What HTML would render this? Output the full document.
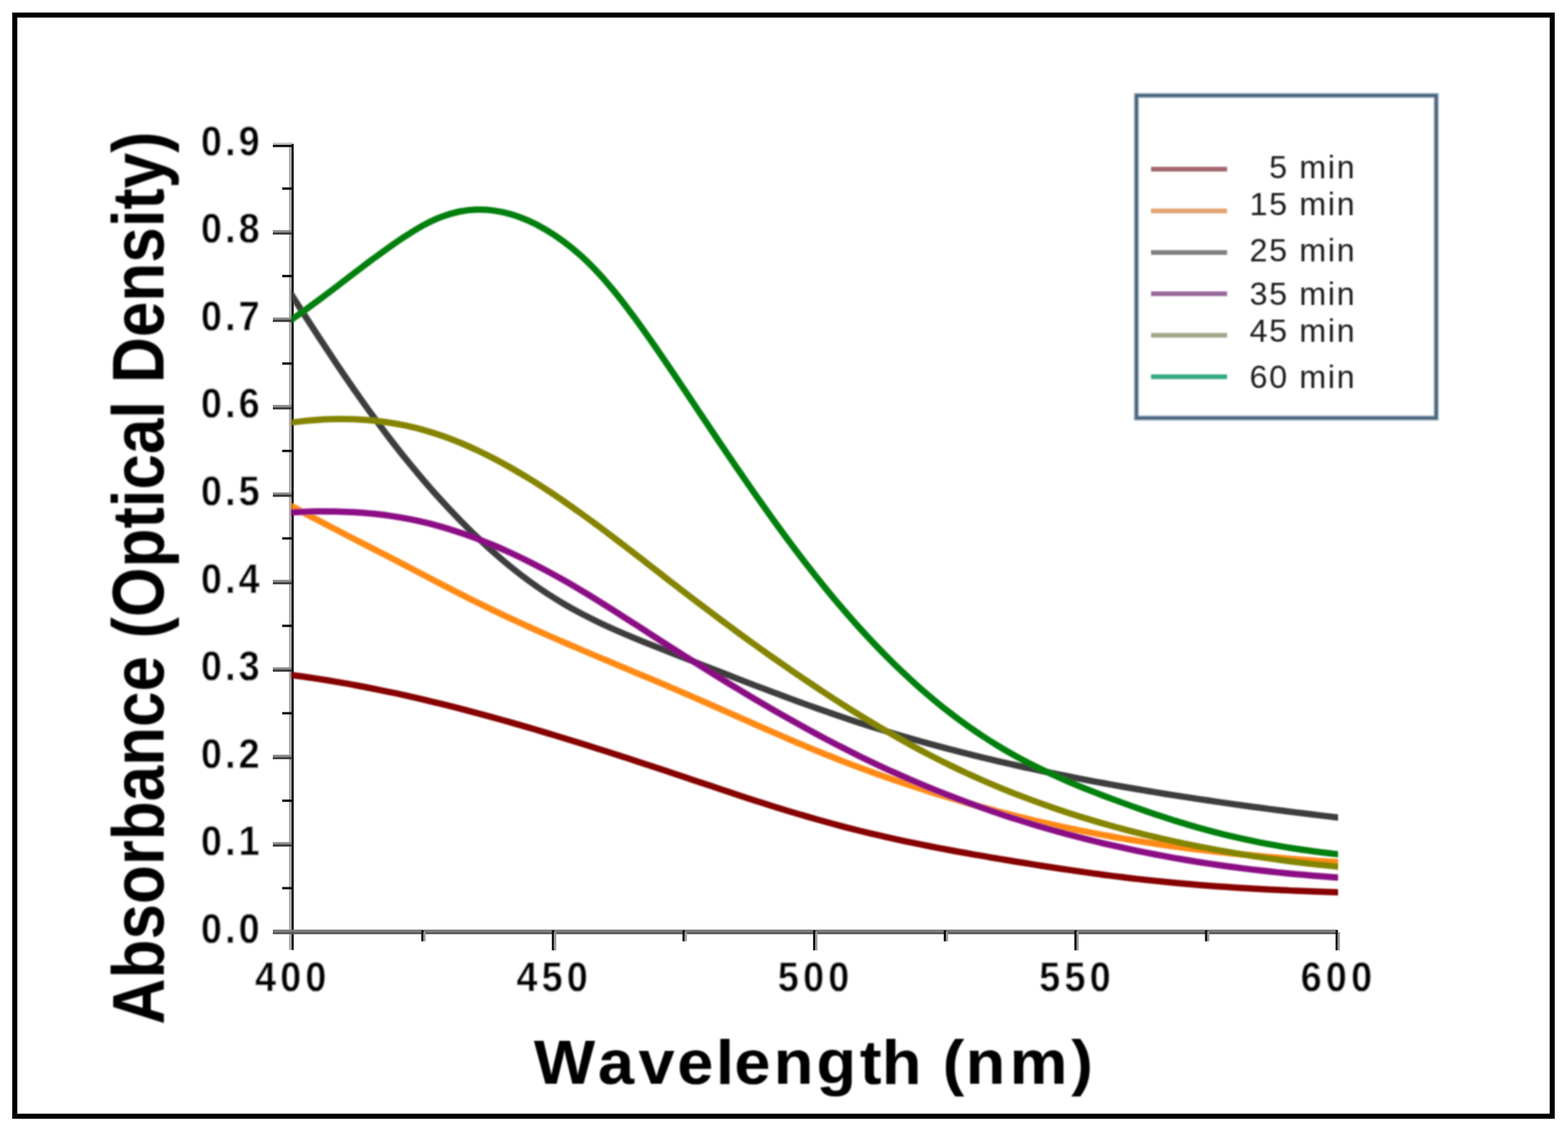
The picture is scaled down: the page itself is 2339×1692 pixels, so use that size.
<!DOCTYPE html>
<html lang="en">
<head>
<meta charset="utf-8">
<title>Absorbance spectra</title>
<style>
html,body{margin:0;padding:0;background:#fff;}
body{width:2339px;height:1692px;overflow:hidden;}
svg{display:block;}
text{font-family:"Liberation Sans",sans-serif;font-kerning:none;}
.tick{font-weight:bold;font-size:62.5px;fill:#060606;letter-spacing:5.2px;stroke:#fff;stroke-width:0.3px;}
.xtick{letter-spacing:7.0px;}
.xlab{font-weight:bold;font-size:92px;fill:#040404;letter-spacing:3.75px;stroke:#040404;stroke-width:0.2px;}
.ylab{font-weight:bold;font-size:109px;fill:#040404;letter-spacing:0px;stroke:#040404;stroke-width:0.0px;}
.leg{font-size:48px;fill:#1c1c1c;letter-spacing:2.5px;}
.curve{fill:none;stroke-width:9.5;stroke-linecap:butt;stroke-linejoin:round;}
</style>
</head>
<body>
<svg width="2339" height="1692" viewBox="0 0 2339 1692" role="img" aria-label="Absorbance spectra, 400 to 600 nm, for reaction times from 5 to 60 min">
<defs>
<filter id="soft" x="-5%" y="-5%" width="110%" height="110%"><feGaussianBlur stdDeviation="1.0"/></filter>
<filter id="soft2" x="-5%" y="-5%" width="110%" height="110%"><feGaussianBlur stdDeviation="0.55"/></filter>
</defs>
<rect x="0" y="0" width="2339" height="1692" fill="#ffffff"/>
<rect x="22" y="22.5" width="2293.5" height="1643" fill="none" stroke="#000" stroke-width="7.6"/>
<g id="axes" filter="url(#soft2)">
<rect x="431.0" y="212.6" width="4.2" height="1204.9" fill="#b0b0b0"/>
<rect x="435.0" y="214.6" width="3.1" height="1202.9" fill="#060606"/>
<rect x="407" y="1387" width="1588.8" height="3.5" fill="#7c7c7c"/>
<rect x="407" y="1390.4" width="1588.8" height="3.5" fill="#585858"/>
<rect x="421" y="1323.4" width="14.5" height="3.6" fill="#101010"/>
<rect x="407" y="1256.5" width="28" height="3.4" fill="#8c8c8c"/>
<rect x="407" y="1259.8" width="28.5" height="3.4" fill="#3c3c3c"/>
<rect x="421" y="1192.9" width="14.5" height="3.6" fill="#101010"/>
<rect x="407" y="1126.1" width="28" height="3.4" fill="#8c8c8c"/>
<rect x="407" y="1129.4" width="28.5" height="3.4" fill="#3c3c3c"/>
<rect x="421" y="1062.4" width="14.5" height="3.6" fill="#101010"/>
<rect x="407" y="995.6" width="28" height="3.4" fill="#8c8c8c"/>
<rect x="407" y="998.9" width="28.5" height="3.4" fill="#3c3c3c"/>
<rect x="421" y="932.0" width="14.5" height="3.6" fill="#101010"/>
<rect x="407" y="865.1" width="28" height="3.4" fill="#8c8c8c"/>
<rect x="407" y="868.4" width="28.5" height="3.4" fill="#3c3c3c"/>
<rect x="421" y="801.5" width="14.5" height="3.6" fill="#101010"/>
<rect x="407" y="734.7" width="28" height="3.4" fill="#8c8c8c"/>
<rect x="407" y="738.0" width="28.5" height="3.4" fill="#3c3c3c"/>
<rect x="421" y="671.0" width="14.5" height="3.6" fill="#101010"/>
<rect x="407" y="604.2" width="28" height="3.4" fill="#8c8c8c"/>
<rect x="407" y="607.5" width="28.5" height="3.4" fill="#3c3c3c"/>
<rect x="421" y="540.6" width="14.5" height="3.6" fill="#101010"/>
<rect x="407" y="473.7" width="28" height="3.4" fill="#8c8c8c"/>
<rect x="407" y="477.0" width="28.5" height="3.4" fill="#3c3c3c"/>
<rect x="421" y="410.1" width="14.5" height="3.6" fill="#101010"/>
<rect x="407" y="343.3" width="28" height="3.4" fill="#8c8c8c"/>
<rect x="407" y="346.6" width="28.5" height="3.4" fill="#3c3c3c"/>
<rect x="421" y="279.6" width="14.5" height="3.6" fill="#101010"/>
<rect x="407" y="212.8" width="28" height="3.4" fill="#c2c2c2"/>
<rect x="407" y="216.1" width="28.5" height="3.4" fill="#080808"/>
<rect x="628.4" y="1388" width="3.4" height="16.5" fill="#0c0c0c"/>
<rect x="631.6" y="1391" width="3.2" height="13.5" fill="#9a9a9a"/>
<rect x="823.2" y="1388" width="3.4" height="30.0" fill="#0c0c0c"/>
<rect x="826.5" y="1391" width="3.2" height="27.0" fill="#9a9a9a"/>
<rect x="1018.1" y="1388" width="3.4" height="16.5" fill="#0c0c0c"/>
<rect x="1021.4" y="1391" width="3.2" height="13.5" fill="#9a9a9a"/>
<rect x="1212.9" y="1388" width="3.4" height="30.0" fill="#0c0c0c"/>
<rect x="1216.2" y="1391" width="3.2" height="27.0" fill="#9a9a9a"/>
<rect x="1407.8" y="1388" width="3.4" height="16.5" fill="#0c0c0c"/>
<rect x="1411.1" y="1391" width="3.2" height="13.5" fill="#9a9a9a"/>
<rect x="1602.6" y="1388" width="3.4" height="30.0" fill="#0c0c0c"/>
<rect x="1605.9" y="1391" width="3.2" height="27.0" fill="#9a9a9a"/>
<rect x="1797.5" y="1388" width="3.4" height="16.5" fill="#0c0c0c"/>
<rect x="1800.8" y="1391" width="3.2" height="13.5" fill="#9a9a9a"/>
<rect x="1992.3" y="1388" width="3.4" height="30.0" fill="#0c0c0c"/>
<rect x="1995.6" y="1391" width="3.2" height="27.0" fill="#9a9a9a"/>
</g>
<g filter="url(#soft)">
<clipPath id="plotclip"><rect x="434.8" y="200" width="1561.2" height="1185"/></clipPath>
<g id="curves" clip-path="url(#plotclip)">
<path class="curve" stroke="#860000" d="M424.0 1005.8 C428.3 1006.4 441.3 1008.1 450.0 1009.3 C458.7 1010.5 467.3 1011.8 476.0 1013.1 C484.7 1014.5 493.3 1015.9 502.0 1017.4 C510.7 1018.8 519.3 1020.4 528.0 1022.0 C536.7 1023.6 545.3 1025.2 554.0 1027.0 C562.7 1028.7 571.3 1030.5 580.0 1032.3 C588.7 1034.1 597.3 1036.0 606.0 1037.9 C614.7 1039.9 623.3 1041.9 632.0 1043.9 C640.7 1046.0 649.3 1048.1 658.0 1050.2 C666.7 1052.3 675.3 1054.5 684.0 1056.7 C692.7 1059.0 701.3 1061.3 710.0 1063.6 C718.7 1065.9 727.3 1068.2 736.0 1070.6 C744.7 1073.0 753.3 1075.4 762.0 1077.9 C770.7 1080.4 779.3 1082.9 788.0 1085.4 C796.7 1087.9 805.3 1090.5 814.0 1093.1 C822.7 1095.7 831.3 1098.3 840.0 1101.0 C848.7 1103.6 857.3 1106.3 866.0 1109.0 C874.7 1111.7 883.3 1114.4 892.0 1117.2 C900.7 1119.9 909.3 1122.7 918.0 1125.5 C926.7 1128.2 935.3 1131.1 944.0 1133.9 C952.7 1136.7 961.3 1139.6 970.0 1142.4 C978.7 1145.3 987.3 1148.2 996.0 1151.1 C1004.7 1154.0 1013.3 1156.9 1022.0 1159.8 C1030.7 1162.7 1039.3 1165.6 1048.0 1168.5 C1056.7 1171.4 1065.3 1174.3 1074.0 1177.2 C1082.7 1180.1 1091.3 1183.0 1100.0 1185.9 C1108.7 1188.7 1117.3 1191.6 1126.0 1194.4 C1134.7 1197.2 1143.3 1199.9 1152.0 1202.7 C1160.7 1205.4 1169.3 1208.1 1178.0 1210.7 C1186.7 1213.3 1195.3 1215.9 1204.0 1218.4 C1212.7 1220.9 1221.3 1223.4 1230.0 1225.8 C1238.7 1228.2 1247.3 1230.5 1256.0 1232.8 C1264.7 1235.1 1273.3 1237.3 1282.0 1239.5 C1290.7 1241.6 1299.3 1243.7 1308.0 1245.7 C1316.7 1247.8 1325.3 1249.7 1334.0 1251.6 C1342.7 1253.6 1351.3 1255.4 1360.0 1257.2 C1368.7 1259.0 1377.3 1260.8 1386.0 1262.5 C1394.7 1264.2 1403.3 1265.9 1412.0 1267.5 C1420.7 1269.2 1429.3 1270.8 1438.0 1272.3 C1446.7 1273.9 1455.3 1275.4 1464.0 1276.9 C1472.7 1278.5 1481.3 1279.9 1490.0 1281.4 C1498.7 1282.8 1507.3 1284.3 1516.0 1285.7 C1524.7 1287.1 1533.3 1288.5 1542.0 1289.9 C1550.7 1291.3 1559.3 1292.6 1568.0 1294.0 C1576.7 1295.3 1585.3 1296.6 1594.0 1297.9 C1602.7 1299.2 1611.3 1300.4 1620.0 1301.6 C1628.7 1302.9 1637.3 1304.0 1646.0 1305.2 C1654.7 1306.3 1663.3 1307.5 1672.0 1308.5 C1680.7 1309.6 1689.3 1310.6 1698.0 1311.6 C1706.7 1312.6 1715.3 1313.5 1724.0 1314.4 C1732.7 1315.3 1741.3 1316.2 1750.0 1317.0 C1758.7 1317.8 1767.3 1318.6 1776.0 1319.3 C1784.7 1320.1 1793.3 1320.8 1802.0 1321.4 C1810.7 1322.1 1819.3 1322.7 1828.0 1323.3 C1836.7 1323.9 1845.3 1324.5 1854.0 1325.0 C1862.7 1325.5 1871.3 1326.0 1880.0 1326.5 C1888.7 1327.0 1897.3 1327.4 1906.0 1327.8 C1914.7 1328.3 1923.3 1328.6 1932.0 1329.0 C1940.7 1329.4 1949.3 1329.7 1958.0 1330.1 C1966.7 1330.4 1975.3 1330.7 1984.0 1331.0 C1992.7 1331.3 2005.7 1331.7 2010.0 1331.8"/>
<path class="curve" stroke="#ff8a14" d="M424.0 749.1 C428.3 751.4 441.3 758.5 450.0 763.2 C458.7 767.9 467.3 772.5 476.0 777.0 C484.7 781.6 493.3 786.1 502.0 790.6 C510.7 795.1 519.3 799.6 528.0 804.1 C536.7 808.5 545.3 813.0 554.0 817.4 C562.7 821.9 571.3 826.3 580.0 830.8 C588.7 835.3 597.3 839.8 606.0 844.3 C614.7 848.8 623.3 853.4 632.0 857.9 C640.7 862.5 649.3 867.0 658.0 871.5 C666.7 876.0 675.3 880.5 684.0 884.9 C692.7 889.3 701.3 893.7 710.0 898.0 C718.7 902.3 727.3 906.5 736.0 910.6 C744.7 914.8 753.3 918.9 762.0 922.9 C770.7 927.0 779.3 930.9 788.0 934.9 C796.7 938.8 805.3 942.7 814.0 946.5 C822.7 950.3 831.3 954.1 840.0 957.8 C848.7 961.6 857.3 965.3 866.0 969.0 C874.7 972.7 883.3 976.3 892.0 980.0 C900.7 983.6 909.3 987.3 918.0 990.9 C926.7 994.5 935.3 998.1 944.0 1001.8 C952.7 1005.4 961.3 1009.0 970.0 1012.7 C978.7 1016.3 987.3 1020.0 996.0 1023.7 C1004.7 1027.4 1013.3 1031.1 1022.0 1034.8 C1030.7 1038.6 1039.3 1042.4 1048.0 1046.2 C1056.7 1050.0 1065.3 1053.8 1074.0 1057.6 C1082.7 1061.5 1091.3 1065.3 1100.0 1069.1 C1108.7 1073.0 1117.3 1076.8 1126.0 1080.6 C1134.7 1084.5 1143.3 1088.3 1152.0 1092.0 C1160.7 1095.8 1169.3 1099.6 1178.0 1103.3 C1186.7 1107.0 1195.3 1110.7 1204.0 1114.3 C1212.7 1117.9 1221.3 1121.5 1230.0 1125.0 C1238.7 1128.5 1247.3 1131.9 1256.0 1135.3 C1264.7 1138.7 1273.3 1142.0 1282.0 1145.2 C1290.7 1148.4 1299.3 1151.6 1308.0 1154.7 C1316.7 1157.8 1325.3 1160.8 1334.0 1163.8 C1342.7 1166.8 1351.3 1169.7 1360.0 1172.6 C1368.7 1175.4 1377.3 1178.2 1386.0 1180.9 C1394.7 1183.7 1403.3 1186.4 1412.0 1189.0 C1420.7 1191.6 1429.3 1194.1 1438.0 1196.6 C1446.7 1199.1 1455.3 1201.6 1464.0 1204.0 C1472.7 1206.4 1481.3 1208.7 1490.0 1211.0 C1498.7 1213.2 1507.3 1215.5 1516.0 1217.6 C1524.7 1219.8 1533.3 1221.9 1542.0 1224.0 C1550.7 1226.0 1559.3 1228.0 1568.0 1229.9 C1576.7 1231.9 1585.3 1233.8 1594.0 1235.6 C1602.7 1237.4 1611.3 1239.2 1620.0 1240.9 C1628.7 1242.7 1637.3 1244.3 1646.0 1245.9 C1654.7 1247.5 1663.3 1249.1 1672.0 1250.6 C1680.7 1252.1 1689.3 1253.5 1698.0 1254.9 C1706.7 1256.3 1715.3 1257.7 1724.0 1259.0 C1732.7 1260.3 1741.3 1261.5 1750.0 1262.7 C1758.7 1263.9 1767.3 1265.0 1776.0 1266.2 C1784.7 1267.3 1793.3 1268.3 1802.0 1269.4 C1810.7 1270.4 1819.3 1271.4 1828.0 1272.3 C1836.7 1273.2 1845.3 1274.2 1854.0 1275.0 C1862.7 1275.9 1871.3 1276.7 1880.0 1277.5 C1888.7 1278.3 1897.3 1279.1 1906.0 1279.8 C1914.7 1280.6 1923.3 1281.3 1932.0 1282.0 C1940.7 1282.6 1949.3 1283.3 1958.0 1283.9 C1966.7 1284.6 1975.3 1285.2 1984.0 1285.7 C1992.7 1286.3 2005.7 1287.2 2010.0 1287.4"/>
<path class="curve" stroke="#3c3c3c" d="M424.0 422.7 C428.3 429.5 441.3 450.0 450.0 463.5 C458.7 477.0 467.3 490.4 476.0 503.7 C484.7 516.9 493.3 530.0 502.0 542.9 C510.7 555.8 519.3 568.5 528.0 580.9 C536.7 593.3 545.3 605.6 554.0 617.5 C562.7 629.4 571.3 641.1 580.0 652.5 C588.7 663.8 597.3 674.9 606.0 685.6 C614.7 696.3 623.3 706.7 632.0 716.8 C640.7 727.0 649.3 736.8 658.0 746.3 C666.7 755.8 675.3 765.0 684.0 773.9 C692.7 782.8 701.3 791.5 710.0 799.8 C718.7 808.1 727.3 816.1 736.0 823.8 C744.7 831.5 753.3 838.9 762.0 845.9 C770.7 853.0 779.3 859.7 788.0 866.0 C796.7 872.4 805.3 878.4 814.0 884.1 C822.7 889.8 831.3 895.2 840.0 900.3 C848.7 905.5 857.3 910.3 866.0 914.9 C874.7 919.5 883.3 923.8 892.0 928.0 C900.7 932.2 909.3 936.1 918.0 940.0 C926.7 943.8 935.3 947.5 944.0 951.1 C952.7 954.7 961.3 958.1 970.0 961.6 C978.7 965.1 987.3 968.5 996.0 971.9 C1004.7 975.3 1013.3 978.7 1022.0 982.1 C1030.7 985.5 1039.3 988.9 1048.0 992.3 C1056.7 995.7 1065.3 999.1 1074.0 1002.5 C1082.7 1005.9 1091.3 1009.2 1100.0 1012.6 C1108.7 1015.9 1117.3 1019.3 1126.0 1022.6 C1134.7 1025.9 1143.3 1029.2 1152.0 1032.4 C1160.7 1035.7 1169.3 1038.9 1178.0 1042.1 C1186.7 1045.3 1195.3 1048.5 1204.0 1051.6 C1212.7 1054.7 1221.3 1057.8 1230.0 1060.8 C1238.7 1063.9 1247.3 1066.9 1256.0 1069.8 C1264.7 1072.7 1273.3 1075.6 1282.0 1078.5 C1290.7 1081.3 1299.3 1084.1 1308.0 1086.8 C1316.7 1089.5 1325.3 1092.1 1334.0 1094.7 C1342.7 1097.3 1351.3 1099.9 1360.0 1102.4 C1368.7 1104.9 1377.3 1107.3 1386.0 1109.7 C1394.7 1112.1 1403.3 1114.4 1412.0 1116.7 C1420.7 1119.0 1429.3 1121.2 1438.0 1123.4 C1446.7 1125.6 1455.3 1127.8 1464.0 1129.9 C1472.7 1132.0 1481.3 1134.1 1490.0 1136.1 C1498.7 1138.1 1507.3 1140.1 1516.0 1142.0 C1524.7 1144.0 1533.3 1145.9 1542.0 1147.7 C1550.7 1149.6 1559.3 1151.4 1568.0 1153.2 C1576.7 1155.0 1585.3 1156.8 1594.0 1158.5 C1602.7 1160.2 1611.3 1161.9 1620.0 1163.6 C1628.7 1165.3 1637.3 1166.9 1646.0 1168.5 C1654.7 1170.1 1663.3 1171.7 1672.0 1173.2 C1680.7 1174.8 1689.3 1176.3 1698.0 1177.8 C1706.7 1179.2 1715.3 1180.7 1724.0 1182.1 C1732.7 1183.6 1741.3 1185.0 1750.0 1186.4 C1758.7 1187.7 1767.3 1189.1 1776.0 1190.4 C1784.7 1191.8 1793.3 1193.1 1802.0 1194.3 C1810.7 1195.6 1819.3 1196.9 1828.0 1198.1 C1836.7 1199.4 1845.3 1200.6 1854.0 1201.8 C1862.7 1203.0 1871.3 1204.2 1880.0 1205.3 C1888.7 1206.5 1897.3 1207.6 1906.0 1208.7 C1914.7 1209.9 1923.3 1211.0 1932.0 1212.1 C1940.7 1213.1 1949.3 1214.2 1958.0 1215.3 C1966.7 1216.3 1975.3 1217.4 1984.0 1218.4 C1992.7 1219.4 2005.7 1220.9 2010.0 1221.4"/>
<path class="curve" stroke="#8b0a84" d="M424.0 765.0 C428.3 764.8 441.3 764.1 450.0 763.7 C458.7 763.4 467.3 763.1 476.0 763.0 C484.7 763.0 493.3 763.0 502.0 763.2 C510.7 763.4 519.3 763.7 528.0 764.2 C536.7 764.8 545.3 765.4 554.0 766.3 C562.7 767.1 571.3 768.2 580.0 769.4 C588.7 770.6 597.3 772.0 606.0 773.6 C614.7 775.2 623.3 777.0 632.0 779.1 C640.7 781.1 649.3 783.4 658.0 785.8 C666.7 788.3 675.3 791.0 684.0 793.9 C692.7 796.8 701.3 799.9 710.0 803.1 C718.7 806.4 727.3 809.9 736.0 813.5 C744.7 817.2 753.3 821.0 762.0 825.0 C770.7 829.0 779.3 833.2 788.0 837.5 C796.7 841.8 805.3 846.3 814.0 850.9 C822.7 855.5 831.3 860.3 840.0 865.2 C848.7 870.1 857.3 875.2 866.0 880.4 C874.7 885.5 883.3 890.8 892.0 896.2 C900.7 901.6 909.3 907.1 918.0 912.6 C926.7 918.1 935.3 923.7 944.0 929.2 C952.7 934.8 961.3 940.4 970.0 946.0 C978.7 951.5 987.3 957.1 996.0 962.7 C1004.7 968.2 1013.3 973.7 1022.0 979.2 C1030.7 984.7 1039.3 990.1 1048.0 995.5 C1056.7 1001.0 1065.3 1006.3 1074.0 1011.7 C1082.7 1017.0 1091.3 1022.3 1100.0 1027.5 C1108.7 1032.8 1117.3 1037.9 1126.0 1043.1 C1134.7 1048.2 1143.3 1053.3 1152.0 1058.3 C1160.7 1063.3 1169.3 1068.2 1178.0 1073.1 C1186.7 1078.0 1195.3 1082.8 1204.0 1087.6 C1212.7 1092.3 1221.3 1097.0 1230.0 1101.6 C1238.7 1106.2 1247.3 1110.7 1256.0 1115.1 C1264.7 1119.6 1273.3 1123.9 1282.0 1128.2 C1290.7 1132.4 1299.3 1136.6 1308.0 1140.7 C1316.7 1144.8 1325.3 1148.8 1334.0 1152.7 C1342.7 1156.6 1351.3 1160.4 1360.0 1164.1 C1368.7 1167.8 1377.3 1171.5 1386.0 1175.1 C1394.7 1178.6 1403.3 1182.1 1412.0 1185.5 C1420.7 1188.9 1429.3 1192.2 1438.0 1195.4 C1446.7 1198.6 1455.3 1201.8 1464.0 1204.8 C1472.7 1207.9 1481.3 1210.9 1490.0 1213.8 C1498.7 1216.7 1507.3 1219.6 1516.0 1222.3 C1524.7 1225.1 1533.3 1227.8 1542.0 1230.4 C1550.7 1233.0 1559.3 1235.5 1568.0 1238.0 C1576.7 1240.4 1585.3 1242.8 1594.0 1245.2 C1602.7 1247.5 1611.3 1249.7 1620.0 1251.9 C1628.7 1254.1 1637.3 1256.2 1646.0 1258.3 C1654.7 1260.3 1663.3 1262.3 1672.0 1264.2 C1680.7 1266.1 1689.3 1268.0 1698.0 1269.8 C1706.7 1271.6 1715.3 1273.3 1724.0 1275.0 C1732.7 1276.6 1741.3 1278.2 1750.0 1279.8 C1758.7 1281.3 1767.3 1282.8 1776.0 1284.2 C1784.7 1285.7 1793.3 1287.1 1802.0 1288.4 C1810.7 1289.7 1819.3 1290.9 1828.0 1292.2 C1836.7 1293.4 1845.3 1294.5 1854.0 1295.6 C1862.7 1296.7 1871.3 1297.8 1880.0 1298.8 C1888.7 1299.8 1897.3 1300.7 1906.0 1301.6 C1914.7 1302.5 1923.3 1303.4 1932.0 1304.2 C1940.7 1305.0 1949.3 1305.7 1958.0 1306.5 C1966.7 1307.2 1975.3 1307.8 1984.0 1308.5 C1992.7 1309.1 2005.7 1310.0 2010.0 1310.3"/>
<path class="curve" stroke="#848400" d="M424.0 631.8 C428.3 631.3 441.3 629.5 450.0 628.6 C458.7 627.7 467.3 626.9 476.0 626.3 C484.7 625.8 493.3 625.4 502.0 625.3 C510.7 625.1 519.3 625.2 528.0 625.6 C536.7 625.9 545.3 626.4 554.0 627.3 C562.7 628.1 571.3 629.1 580.0 630.5 C588.7 631.8 597.3 633.4 606.0 635.2 C614.7 637.1 623.3 639.2 632.0 641.6 C640.7 644.1 649.3 646.8 658.0 649.8 C666.7 652.8 675.3 656.1 684.0 659.6 C692.7 663.1 701.3 667.0 710.0 671.0 C718.7 675.0 727.3 679.3 736.0 683.8 C744.7 688.3 753.3 693.1 762.0 698.0 C770.7 702.9 779.3 708.0 788.0 713.3 C796.7 718.6 805.3 724.1 814.0 729.8 C822.7 735.4 831.3 741.3 840.0 747.2 C848.7 753.2 857.3 759.3 866.0 765.5 C874.7 771.7 883.3 778.1 892.0 784.5 C900.7 790.9 909.3 797.5 918.0 804.1 C926.7 810.7 935.3 817.3 944.0 824.0 C952.7 830.7 961.3 837.5 970.0 844.2 C978.7 850.9 987.3 857.7 996.0 864.4 C1004.7 871.1 1013.3 877.9 1022.0 884.5 C1030.7 891.2 1039.3 897.8 1048.0 904.3 C1056.7 910.9 1065.3 917.4 1074.0 923.9 C1082.7 930.3 1091.3 936.7 1100.0 943.1 C1108.7 949.4 1117.3 955.7 1126.0 962.0 C1134.7 968.2 1143.3 974.4 1152.0 980.5 C1160.7 986.6 1169.3 992.6 1178.0 998.6 C1186.7 1004.6 1195.3 1010.5 1204.0 1016.3 C1212.7 1022.2 1221.3 1027.9 1230.0 1033.6 C1238.7 1039.3 1247.3 1044.9 1256.0 1050.4 C1264.7 1056.0 1273.3 1061.4 1282.0 1066.7 C1290.7 1072.1 1299.3 1077.3 1308.0 1082.5 C1316.7 1087.7 1325.3 1092.7 1334.0 1097.7 C1342.7 1102.6 1351.3 1107.5 1360.0 1112.2 C1368.7 1117.0 1377.3 1121.6 1386.0 1126.1 C1394.7 1130.6 1403.3 1135.0 1412.0 1139.3 C1420.7 1143.5 1429.3 1147.7 1438.0 1151.7 C1446.7 1155.8 1455.3 1159.7 1464.0 1163.5 C1472.7 1167.3 1481.3 1171.0 1490.0 1174.6 C1498.7 1178.2 1507.3 1181.7 1516.0 1185.1 C1524.7 1188.4 1533.3 1191.7 1542.0 1194.9 C1550.7 1198.1 1559.3 1201.2 1568.0 1204.2 C1576.7 1207.2 1585.3 1210.1 1594.0 1212.9 C1602.7 1215.8 1611.3 1218.5 1620.0 1221.1 C1628.7 1223.8 1637.3 1226.4 1646.0 1228.9 C1654.7 1231.3 1663.3 1233.8 1672.0 1236.1 C1680.7 1238.4 1689.3 1240.7 1698.0 1242.9 C1706.7 1245.1 1715.3 1247.2 1724.0 1249.2 C1732.7 1251.3 1741.3 1253.2 1750.0 1255.1 C1758.7 1257.0 1767.3 1258.9 1776.0 1260.6 C1784.7 1262.4 1793.3 1264.1 1802.0 1265.7 C1810.7 1267.4 1819.3 1269.0 1828.0 1270.5 C1836.7 1272.0 1845.3 1273.5 1854.0 1274.9 C1862.7 1276.3 1871.3 1277.6 1880.0 1278.9 C1888.7 1280.2 1897.3 1281.4 1906.0 1282.6 C1914.7 1283.8 1923.3 1284.9 1932.0 1286.0 C1940.7 1287.1 1949.3 1288.1 1958.0 1289.1 C1966.7 1290.1 1975.3 1291.0 1984.0 1291.9 C1992.7 1292.8 2005.7 1294.1 2010.0 1294.5"/>
<path class="curve" stroke="#007f0a" d="M424.0 484.3 C428.3 481.3 441.3 472.4 450.0 466.3 C458.7 460.1 467.3 453.7 476.0 447.3 C484.7 440.9 493.3 434.3 502.0 427.7 C510.7 421.1 519.3 414.4 528.0 407.8 C536.7 401.3 545.3 394.6 554.0 388.2 C562.7 381.8 571.3 375.4 580.0 369.3 C588.7 363.2 597.3 357.2 606.0 351.6 C614.7 346.1 623.3 340.6 632.0 335.9 C640.7 331.3 649.3 327.1 658.0 323.8 C666.7 320.5 675.3 317.9 684.0 316.0 C692.7 314.2 701.3 313.1 710.0 312.8 C718.7 312.5 727.3 312.9 736.0 314.1 C744.7 315.2 753.3 317.1 762.0 319.6 C770.7 322.1 779.3 325.4 788.0 329.2 C796.7 333.0 805.3 337.5 814.0 342.6 C822.7 347.7 831.3 353.4 840.0 359.8 C848.7 366.2 857.3 373.2 866.0 381.0 C874.7 388.8 883.3 397.4 892.0 406.7 C900.7 416.0 909.3 426.2 918.0 436.8 C926.7 447.5 935.3 458.9 944.0 470.6 C952.7 482.2 961.3 494.5 970.0 506.8 C978.7 519.1 987.3 531.8 996.0 544.5 C1004.7 557.2 1013.3 570.1 1022.0 583.1 C1030.7 596.0 1039.3 609.1 1048.0 622.1 C1056.7 635.1 1065.3 648.1 1074.0 661.0 C1082.7 673.9 1091.3 686.7 1100.0 699.3 C1108.7 712.0 1117.3 724.5 1126.0 736.9 C1134.7 749.2 1143.3 761.5 1152.0 773.5 C1160.7 785.5 1169.3 797.4 1178.0 809.0 C1186.7 820.6 1195.3 832.0 1204.0 843.2 C1212.7 854.4 1221.3 865.3 1230.0 876.0 C1238.7 886.7 1247.3 897.1 1256.0 907.2 C1264.7 917.3 1273.3 927.2 1282.0 936.8 C1290.7 946.3 1299.3 955.6 1308.0 964.6 C1316.7 973.7 1325.3 982.4 1334.0 990.9 C1342.7 999.3 1351.3 1007.5 1360.0 1015.4 C1368.7 1023.4 1377.3 1031.0 1386.0 1038.3 C1394.7 1045.7 1403.3 1052.8 1412.0 1059.6 C1420.7 1066.4 1429.3 1072.9 1438.0 1079.1 C1446.7 1085.4 1455.3 1091.4 1464.0 1097.1 C1472.7 1102.9 1481.3 1108.3 1490.0 1113.6 C1498.7 1118.8 1507.3 1123.8 1516.0 1128.6 C1524.7 1133.4 1533.3 1137.9 1542.0 1142.3 C1550.7 1146.7 1559.3 1150.8 1568.0 1154.8 C1576.7 1158.8 1585.3 1162.6 1594.0 1166.3 C1602.7 1170.0 1611.3 1173.6 1620.0 1177.1 C1628.7 1180.5 1637.3 1183.9 1646.0 1187.2 C1654.7 1190.5 1663.3 1193.7 1672.0 1196.9 C1680.7 1200.1 1689.3 1203.2 1698.0 1206.3 C1706.7 1209.3 1715.3 1212.3 1724.0 1215.2 C1732.7 1218.1 1741.3 1221.0 1750.0 1223.7 C1758.7 1226.4 1767.3 1229.1 1776.0 1231.6 C1784.7 1234.2 1793.3 1236.6 1802.0 1238.9 C1810.7 1241.2 1819.3 1243.5 1828.0 1245.6 C1836.7 1247.7 1845.3 1249.7 1854.0 1251.6 C1862.7 1253.5 1871.3 1255.3 1880.0 1257.1 C1888.7 1258.8 1897.3 1260.4 1906.0 1261.9 C1914.7 1263.5 1923.3 1264.9 1932.0 1266.3 C1940.7 1267.6 1949.3 1268.9 1958.0 1270.0 C1966.7 1271.2 1975.3 1272.3 1984.0 1273.3 C1992.7 1274.3 2005.7 1275.7 2010.0 1276.2"/>
</g>
<g id="legend">
<rect x="1695.2" y="142.5" width="447.2" height="481.2" fill="none" stroke="#8ea4b8" stroke-width="7.4"/>
<rect x="1695.2" y="142.5" width="447.2" height="481.2" fill="none" stroke="#3f5c77" stroke-width="3.6"/>
<rect x="1717" y="248.9" width="113.5" height="7" fill="#a2676e"/>
<text class="leg" x="2023.1" y="266.3" text-anchor="end">5 min</text>
<rect x="1717" y="311.2" width="113.5" height="7" fill="#e3a271"/>
<text class="leg" x="2023.1" y="321.1" text-anchor="end">15 min</text>
<rect x="1717" y="373.2" width="113.5" height="7" fill="#808080"/>
<text class="leg" x="2023.1" y="390.2" text-anchor="end">25 min</text>
<rect x="1717" y="434.8" width="113.5" height="7" fill="#98699c"/>
<text class="leg" x="2023.1" y="454.8" text-anchor="end">35 min</text>
<rect x="1717" y="496.7" width="113.5" height="7" fill="#a1a98b"/>
<text class="leg" x="2023.1" y="510.3" text-anchor="end">45 min</text>
<rect x="1717" y="558.6" width="113.5" height="7" fill="#34a984"/>
<text class="leg" x="2023.1" y="578.6" text-anchor="end">60 min</text>
</g>
</g>
<g id="labels" filter="url(#soft)">
<text class="tick" transform="translate(392 1407.0) scale(0.9 1)" text-anchor="end">0.0</text>
<text class="tick" transform="translate(392 1276.4) scale(0.9 1)" text-anchor="end">0.1</text>
<text class="tick" transform="translate(392 1145.7) scale(0.9 1)" text-anchor="end">0.2</text>
<text class="tick" transform="translate(392 1015.1) scale(0.9 1)" text-anchor="end">0.3</text>
<text class="tick" transform="translate(392 884.5) scale(0.9 1)" text-anchor="end">0.4</text>
<text class="tick" transform="translate(392 753.9) scale(0.9 1)" text-anchor="end">0.5</text>
<text class="tick" transform="translate(392 623.3) scale(0.9 1)" text-anchor="end">0.6</text>
<text class="tick" transform="translate(392 492.7) scale(0.9 1)" text-anchor="end">0.7</text>
<text class="tick" transform="translate(392 362.1) scale(0.9 1)" text-anchor="end">0.8</text>
<text class="tick" transform="translate(392 231.5) scale(0.9 1)" text-anchor="end">0.9</text>
<text class="tick xtick" transform="translate(436.8 1479.2) scale(0.9 1)" text-anchor="middle">400</text>
<text class="tick xtick" transform="translate(826.8 1479.2) scale(0.9 1)" text-anchor="middle">450</text>
<text class="tick xtick" transform="translate(1216.7 1479.2) scale(0.9 1)" text-anchor="middle">500</text>
<text class="tick xtick" transform="translate(1606.7 1479.2) scale(0.9 1)" text-anchor="middle">550</text>
<text class="tick xtick" transform="translate(1996.6 1479.2) scale(0.9 1)" text-anchor="middle">600</text>
<text class="xlab" transform="translate(796.5 1617.3) scale(1.05 1)" text-anchor="start" dx="0.00 0.48 2.57 0.10 0.19 -3.33 1.05 0.86 1.71 -3.33 -1.43 -1.33 -1.71 2.57 1.81">Wavelength (nm)</text>
<text class="ylab" transform="translate(243.9 862.5) rotate(-90) scale(0.873 1)" text-anchor="middle">Absorbance (Optical Density)</text>
</g>
</svg>
</body>
</html>
